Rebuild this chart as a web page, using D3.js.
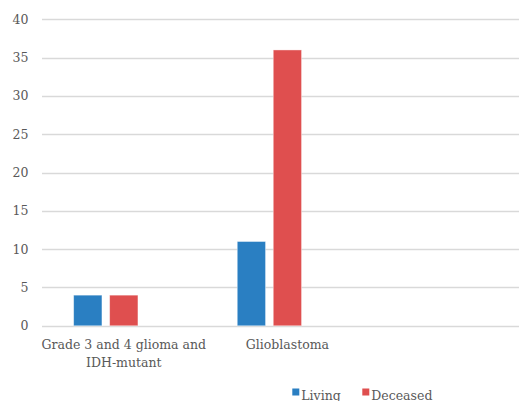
<!DOCTYPE html>
<html><head><meta charset="utf-8">
<script src="https://cdn.jsdelivr.net/npm/d3@7"></script>
<style>body{margin:0;background:#fff}svg{display:block}</style>
</head><body>
<svg id="c" width="519" height="401"></svg>
<script>
const categories = [["Grade 3 and 4 glioma and","IDH-mutant"],["Glioblastoma"],[""]];
const seriesNames = ["Living","Deceased",""];
const living = [4, 11, null];
const deceased = [4, 36, null];
const third = [null, null, null];
const yTicks = [0,5,10,15,20,25,30,35,40];
const colors = ["#2a7fc2","#df4f4f","#a5a5a5"];
const FONT = "'DejaVu Serif', serif";
const FS = 12.5;

const svg = d3.select("#c");
const keys = categories.map((c,i)=>"c"+i);
const x = d3.scaleBand().domain(keys).range([42, 532.8]).paddingInner(0).paddingOuter(0);
const y = d3.scaleLinear().domain([0,40]).range([325.8, 19.3]);
const inner = d3.scaleBand().domain(seriesNames.map((s,i)=>i)).range([0, x.bandwidth()]).paddingInner(0.214).paddingOuter(0.879);

svg.append("g").selectAll("line").data(yTicks).join("line")
  .attr("x1",42).attr("x2",519).attr("y1",d=>Math.round(y(d))+0.5).attr("y2",d=>Math.round(y(d))+0.5)
  .attr("stroke","#d9d9d9").attr("stroke-width",1.3);

svg.append("g").selectAll("text").data(yTicks).join("text")
  .attr("font-family",FONT).attr("fill","#595959")
  .attr("x",28.5).attr("y",d=>y(d)).attr("dy","0.36em").attr("text-anchor","end")
  .attr("font-size",FS).text(d=>d);

const series = [living, deceased, third];
series.forEach((vals,si)=>{
  svg.append("g").selectAll("rect").data(vals.map((v,i)=>({v,i})).filter(d=>d.v!=null)).join("rect")
    .attr("x",d=>x(keys[d.i])+inner(si)).attr("width",inner.bandwidth())
    .attr("y",d=>y(d.v)).attr("height",d=>y(0)-y(d.v))
    .attr("fill",colors[si]).attr("stroke","#ffffff").attr("stroke-opacity",0.5).attr("stroke-width",0.8);
});

const cl = svg.append("g");
categories.forEach((lines,i)=>{
  const cx = x(keys[i])+x.bandwidth()/2;
  const t = cl.append("text").attr("text-anchor","middle").attr("font-size",FS)
    .attr("font-family",FONT).attr("fill","#595959")
    .attr("x", cx).attr("y",349.3);
  lines.forEach((ln,j)=>t.append("tspan").attr("x",cx).attr("dy", j?17.5:0).text(ln));
});

const legend = [{name:seriesNames[0],c:colors[0],x:292.3},{name:seriesNames[1],c:colors[1],x:362.3}];
const lg = svg.append("g");
legend.forEach(l=>{
  lg.append("rect").attr("x",l.x).attr("y",388.5).attr("width",7).attr("height",7).attr("fill",l.c);
  lg.append("text").attr("x",l.x+9).attr("y",399.5).attr("font-size",FS)
    .attr("font-family",FONT).attr("fill","#595959").text(l.name);
});
</script>
</body></html>
